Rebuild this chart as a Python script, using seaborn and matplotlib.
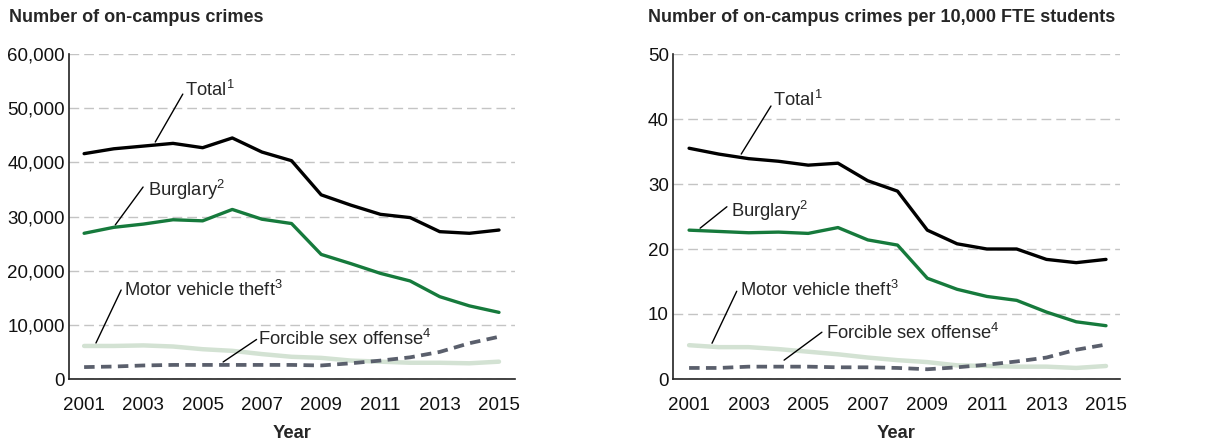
import matplotlib
matplotlib.use("Agg")
import matplotlib.pyplot as plt
import seaborn as sns
import pandas as pd
from matplotlib.ticker import FuncFormatter, MultipleLocator

years = list(range(2001, 2016))

# Left panel: number of on-campus crimes
total_n = [41600, 42500, 43000, 43500, 42700, 44500, 41900, 40300, 34000, 32100, 30400, 29800, 27200, 26900, 27500]
burglary_n = [26900, 28000, 28600, 29400, 29200, 31300, 29500, 28700, 23000, 21300, 19500, 18100, 15200, 13500, 12300]
mvt_n = [6100, 6100, 6200, 6000, 5500, 5200, 4600, 4100, 3900, 3400, 3200, 3000, 3000, 2900, 3200]
fso_n = [2200, 2300, 2500, 2600, 2600, 2600, 2600, 2600, 2500, 2900, 3400, 4000, 5000, 6600, 7800]

# Right panel: per 10,000 FTE students
total_r = [35.5, 34.6, 33.9, 33.5, 32.9, 33.2, 30.5, 28.9, 22.9, 20.8, 20.0, 20.0, 18.4, 17.9, 18.4]
burglary_r = [22.9, 22.7, 22.5, 22.6, 22.4, 23.3, 21.4, 20.6, 15.5, 13.8, 12.7, 12.1, 10.3, 8.8, 8.2]
mvt_r = [5.2, 4.9, 4.9, 4.6, 4.2, 3.8, 3.3, 2.9, 2.6, 2.1, 2.0, 1.9, 1.9, 1.7, 2.0]
fso_r = [1.7, 1.7, 1.9, 1.9, 1.9, 1.8, 1.8, 1.7, 1.5, 1.8, 2.2, 2.7, 3.3, 4.5, 5.3]

titles = ["Number of on-campus crimes", "Number of on-campus crimes per 10,000 FTE students"]

sns.set_style("white")
plt.rcParams['font.family'] = ['Liberation Sans', 'DejaVu Sans']
plt.rcParams['mathtext.fontset'] = 'custom'
plt.rcParams['mathtext.rm'] = 'Liberation Sans'
plt.rcParams['mathtext.it'] = 'Liberation Sans'
plt.rcParams['mathtext.bf'] = 'Liberation Sans:bold'

C_TOTAL = "#000000"
C_BURG = "#167a3c"
C_MVT = "#d3e2d3"
C_FSO = "#5a5f6c"

TICK_FS = 13.5
LAB_FS = 13.2
TITLE_FS = 13.0

fig = plt.figure(figsize=(12.28, 4.43), dpi=100)
ax1 = fig.add_axes([69/1228, 1-379/443, (515-69)/1228, (379-54)/443])
ax2 = fig.add_axes([673/1228, 1-379/443, (1120-673)/1228, (379-54)/443])

def draw(ax, tot, bur, mvt, fso):
    df = pd.DataFrame({"Year": years, "Total": tot, "Burglary": bur, "MVT": mvt, "FSO": fso})
    sns.lineplot(data=df, x="Year", y="MVT", ax=ax, color=C_MVT, linewidth=3.2, zorder=3)
    sns.lineplot(data=df, x="Year", y="FSO", ax=ax, color=C_FSO, linewidth=2.7,
                 linestyle=(0, (2.8, 1.7)), zorder=4)
    sns.lineplot(data=df, x="Year", y="Burglary", ax=ax, color=C_BURG, linewidth=2.4, zorder=5)
    sns.lineplot(data=df, x="Year", y="Total", ax=ax, color=C_TOTAL, linewidth=2.4, zorder=6)

draw(ax1, total_n, burglary_n, mvt_n, fso_n)
draw(ax2, total_r, burglary_r, mvt_r, fso_r)

ax1.set_xlim(2000.49, 2015.54)
ax1.set_ylim(0, 60000)
ax1.yaxis.set_major_locator(MultipleLocator(10000))
ax1.yaxis.set_major_formatter(FuncFormatter(lambda v, p: f"{int(v):,}"))
ax2.set_xlim(2000.46, 2015.47)
ax2.set_ylim(0, 50)
ax2.yaxis.set_major_locator(MultipleLocator(10))
ax2.yaxis.set_major_formatter(FuncFormatter(lambda v, p: f"{int(v)}"))

for ax in (ax1, ax2):
    ax.set_xticks(years)
    ax.set_xticklabels([str(y) if y % 2 == 1 else "" for y in years])
    for s in ("top", "right"):
        ax.spines[s].set_visible(False)
    for s in ("left", "bottom"):
        ax.spines[s].set_color("#222222")
        ax.spines[s].set_linewidth(1.2)
    ax.tick_params(axis="x", direction="out", length=5, width=1.1, color="#222222",
                   labelsize=TICK_FS, pad=8, labelcolor="#111111")
    ax.tick_params(axis="y", length=0, labelsize=TICK_FS, pad=3, labelcolor="#111111")
    ax.yaxis.grid(True, color="#c4c4c4", linestyle=(0, (7, 3.6)), linewidth=1.0)
    ax.xaxis.grid(False)
    ax.set_axisbelow(True)
    ax.set_xlabel("Year", fontsize=LAB_FS, fontweight="bold", labelpad=8)
    ax.set_ylabel("")

fig.text(9/1228, 1-18/443, titles[0], fontsize=TITLE_FS, fontweight="bold", ha="left", va="center")
fig.text(648/1228, 1-18/443, titles[1], fontsize=TITLE_FS, fontweight="bold", ha="left", va="center")

def label(ax, text, sup, tx, ty, p0, p1):
    ax.text(tx, ty, text + r"$^{\mathregular{" + sup + "}}$", fontsize=LAB_FS, ha="left", va="center", zorder=10)
    ax.annotate("", xy=p1, xytext=p0,
                arrowprops=dict(arrowstyle="-", color="black", lw=1.0, shrinkA=0, shrinkB=0))

label(ax1, "Total", "1", 2004.4, 53350, (2004.33, 52600), (2003.4, 43750))
label(ax1, "Burglary", "2", 2003.16, 34900, (2002.99, 35440), (2002.05, 28430))
label(ax1, "Motor vehicle theft", "3", 2002.35, 16430, (2002.25, 16430), (2001.4, 6650))
label(ax1, "Forcible sex offense", "4", 2006.87, 7380, (2006.82, 7300), (2005.69, 3140))

label(ax2, "Total", "1", 2003.82, 42.9, (2003.75, 42.0), (2002.75, 34.6))
label(ax2, "Burglary", "2", 2002.41, 25.9, (2002.27, 26.5), (2001.37, 23.2))
label(ax2, "Motor vehicle theft", "3", 2002.71, 13.7, (2002.6, 13.5), (2001.77, 5.5))
label(ax2, "Forcible sex offense", "4", 2005.6, 7.1, (2005.46, 7.2), (2004.19, 2.9))

fig.savefig("out.png", dpi=100)
